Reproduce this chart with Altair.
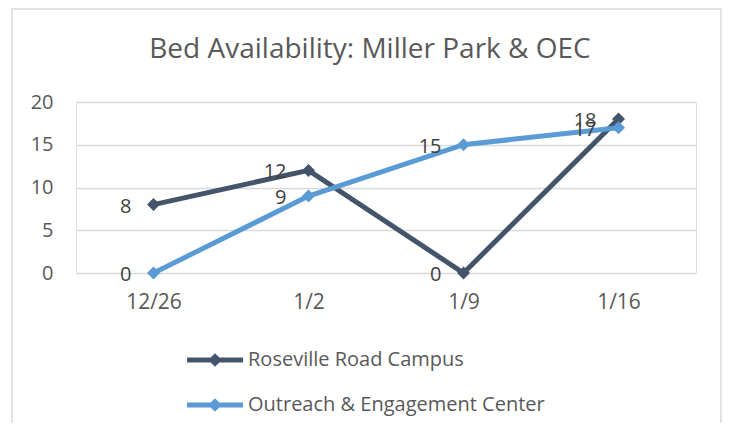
import altair as alt
import pandas as pd

dates = ["12/26", "1/2", "1/9", "1/16"]
series_names = ["Roseville Road Campus", "Outreach & Engagement Center"]
roseville = [8, 12, 0, 18]
oec = [0, 9, 15, 17]
colors = ["#44546A", "#5B9BD5"]
y_ticks = [0, 5, 10, 15, 20]
title_text = "Bed Availability: Miller Park & OEC"

rows = []
for name, vals in zip(series_names, [roseville, oec]):
    for d, v in zip(dates, vals):
        rows.append({"date": d, "series": name, "value": v})
df = pd.DataFrame(rows)

FONT = "Open Sans"
TXT = "#595959"

legend_path = "M-4.67,0L4.67,0 M0,-0.55L0.55,0L0,0.55L-0.55,0Z"

legend = alt.Legend(
    title=None, orient="none", legendX=129, legendY=248, direction="vertical",
    symbolType=legend_path, symbolSize=144, symbolStrokeWidth=5, symbolOpacity=1,
    labelOffset=23, rowPadding=17, labelFontSize=20, labelColor=TXT, labelFont=FONT,
    labelLimit=0,
)

x = alt.X("date:N", sort=dates, scale=alt.Scale(type="point", padding=0.5),
          axis=alt.Axis(title=None, labelAngle=0, domain=False, ticks=False, grid=False,
                        labelPadding=18, labelFontSize=21, labelColor=TXT, labelFont=FONT))
y = alt.Y("value:Q", scale=alt.Scale(domain=[0, 20]),
          axis=alt.Axis(title=None, values=y_ticks, domain=False, ticks=False,
                        labelPadding=23, labelFontSize=20, labelColor=TXT, labelFont=FONT,
                        grid=True, gridColor="#d9d9d9", gridWidth=1.5))
color = alt.Color("series:N", scale=alt.Scale(domain=series_names, range=colors), legend=legend)

base = alt.Chart(df)
lines = base.mark_line(strokeWidth=5).encode(x=x, y=y, color=color)
points = base.mark_point(shape="diamond", filled=True, size=170, opacity=1).encode(x=x, y=y, color=color)
labels = base.mark_text(align="right", baseline="middle", dx=-22, dy=2, fontSize=20,
                        color="#404040", font=FONT).encode(x=x, y=y, text="value:Q")

border = alt.Chart(alt.Data(values=[{}])).mark_rect(
    fill="transparent", stroke="#d9d9d9", strokeWidth=1.5
).encode(x=alt.value(-64), x2=alt.value(645), y=alt.value(-93), y2=alt.value(400))

title = alt.Chart(alt.Data(values=[{"t": title_text}])).mark_text(
    fontSize=28, color=TXT, font=FONT, align="center", baseline="middle"
).encode(x=alt.value(294), y=alt.value(-52), text="t:N")

chart = alt.layer(border, title, lines, points, labels).properties(
    width=620, height=171,
    autosize=alt.AutoSizeParams(type="none"),
    padding={"left": 68, "top": 94, "right": 26, "bottom": 150},
).configure_view(stroke=None).configure(font=FONT)

chart.save("out.html", embed_options={"renderer": "svg", "actions": False})
